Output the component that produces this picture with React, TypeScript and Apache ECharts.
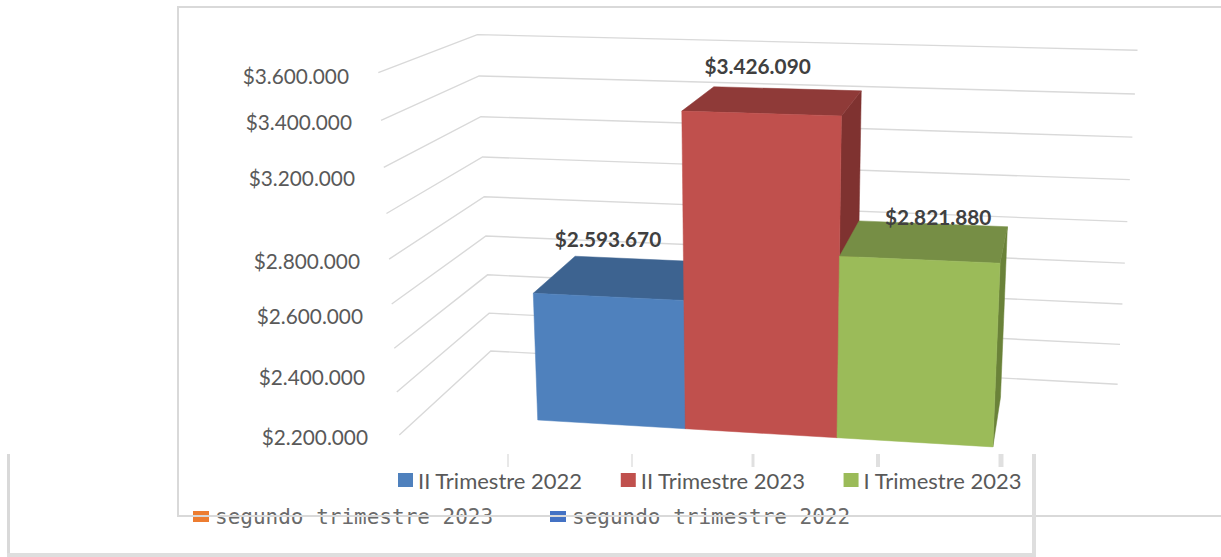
import React, { useEffect, useRef } from "react";
import * as echarts from "echarts";

const categories = ["II Trimestre 2022", "II Trimestre 2023", "I Trimestre 2023"];
const values = [2593670, 3426090, 2821880];
const valueLabels = ["$2.593.670", "$3.426.090", "$2.821.880"];
const frontColors = ["#4F81BD", "#C0504D", "#9BBB59"];
const topColors = ["#3D6390", "#8F3A38", "#768E45"];
const sideColors = ["#35567D", "#7F3230", "#6A8239"];
const axisTicks = [2000000, 2200000, 2400000, 2600000, 2800000, 3000000, 3200000, 3400000, 3600000];
const tickLabels = ["$3.600.000", "$3.400.000", "$3.200.000", "$2.800.000", "$2.600.000", "$2.400.000", "$2.200.000"];
const ghostLegend = ["segundo trimestre 2023", "segundo trimestre 2022"];
const ghostColors = ["#ED7D31", "#4472C4"];

// Layout (not data)
const W = 1221, H = 557;
const tickLabelPos = [[349, 75.5], [352, 121], [355, 177], [360, 260], [363, 315], [365, 376], [368, 436]];
const labelOffsets = [[-19, -39], [-17, -35], [12, -25]];
const frameTicks = [[508, 1.5], [632, 1.5], [753, 3], [878, 4], [1001, 5]];
const BAR_START = 0.1733, BAR_STEP = 0.2176, D0 = 0.233, D1 = 0.767;
const O = [399.3, 435], VX = [-10290, -220], VY = [1093, -202], VZ = [752.5, 6525];
const AX = -0.0633, AY = 0.1519, AZ = -0.05615;

function project(u: number, d: number, t: number) {
  const a = AX * u, b = AY * d, c = AZ * t;
  const w = 1 + a + b + c;
  return [
    (O[0] + a * VX[0] + b * VY[0] + c * VZ[0]) / w,
    (O[1] + a * VX[1] + b * VY[1] + c * VZ[1]) / w,
  ];
}

// scale (through the axes) -> normalised -> perspective
function at(api: any, u: number, d: number, value: number) {
  const p = api.coord([u, value]);
  return project(p[0] / W, d, 1 - p[1] / H);
}

const fontFamily = "Lato, Carlito, sans-serif";
const gridLineStyle = { stroke: "#D9D9D9", lineWidth: 1.4, fill: "none" };

function renderGrid(_: any, api: any) {
  const v = api.value(0);
  return {
    type: "polyline",
    shape: { points: [at(api, 0, 0, v), at(api, 0, 1, v), at(api, 1, 1, v)] },
    style: gridLineStyle,
    silent: true,
  };
}

function renderBar(i: number) {
  return (_: any, api: any) => {
    const v = api.value(0);
    const u0 = BAR_START + i * BAR_STEP, u1 = u0 + BAR_STEP;
    const base = axisTicks[0];
    const poly = (pts: number[][], fill: string) => ({
      type: "polygon",
      shape: { points: pts },
      style: { fill, stroke: fill, lineWidth: 0.5 },
    });
    const tc = at(api, (u0 + u1) / 2, 0.5, v);
    return {
      type: "group",
      children: [
        poly([at(api, u1, D0, v), at(api, u1, D1, v), at(api, u1, D1, base), at(api, u1, D0, base)], sideColors[i]),
        poly([at(api, u0, D0, v), at(api, u0, D1, v), at(api, u1, D1, v), at(api, u1, D0, v)], topColors[i]),
        poly([at(api, u0, D0, v), at(api, u1, D0, v), at(api, u1, D0, base), at(api, u0, D0, base)], frontColors[i]),
        {
          type: "text",
          z2: 50,
          style: {
            x: tc[0] + labelOffsets[i][0],
            y: tc[1] + labelOffsets[i][1],
            text: valueLabels[i],
            align: "center",
            verticalAlign: "middle",
            fill: "#404040",
            font: `bold 20.8px ${fontFamily}`,
          },
        },
      ],
    };
  };
}

const frameLine = (x1: number, y1: number, x2: number, y2: number, width = 2, stroke = "#D9D9D9") => ({
  type: "line",
  shape: { x1, y1, x2, y2 },
  style: { stroke, lineWidth: width },
  silent: true,
  z: 6,
});

export default function App() {
  const ref = useRef<HTMLDivElement>(null);
  useEffect(() => {
    const chart = echarts.init(ref.current!, undefined, { renderer: "svg" });
    chart.setOption({
      animation: false,
      backgroundColor: "#FFFFFF",
      grid: { left: 0, right: 0, top: 0, bottom: 0 },
      xAxis: { type: "value", min: 0, max: 1, show: false },
      yAxis: { type: "value", min: 2000000, max: 3600000, interval: 200000, show: false, splitLine: { show: false } },
      legend: {
        left: 393,
        top: 464,
        itemWidth: 15,
        itemHeight: 14,
        itemGap: 38,
        icon: "rect",
        data: categories,
        textStyle: { color: "#595959", fontSize: 22, fontFamily },
      },
      series: [
        {
          type: "custom",
          name: "grid",
          coordinateSystem: "cartesian2d",
          renderItem: renderGrid,
          data: axisTicks.map((t) => [t]),
          encode: { y: 0 },
          silent: true,
          clip: false,
          z: 1,
        },
        ...categories.map((name, i) => ({
          type: "custom",
          name,
          coordinateSystem: "cartesian2d",
          renderItem: renderBar(i),
          itemStyle: { color: frontColors[i] },
          data: [[values[i]]],
          encode: { y: 0 },
          clip: false,
          z: 2 + i,
        })),
      ],
      graphic: [
        ...tickLabels.map((text, i) => ({
          type: "text",
          style: {
            x: tickLabelPos[i][0],
            y: tickLabelPos[i][1],
            text,
            align: "right",
            verticalAlign: "middle",
            fill: "#595959",
            font: `20.8px ${fontFamily}`,
          },
          silent: true,
          z: 5,
        })),
        ...ghostLegend.map((text, i) => ({
          type: "group",
          silent: true,
          z: 5,
          children: [
            { type: "rect", shape: { x: [193, 550][i], y: 511, width: 16, height: 11 }, style: { fill: ghostColors[i] } },
            {
              type: "text",
              style: {
                x: [215, 572][i],
                y: 517,
                text,
                verticalAlign: "middle",
                fill: "#6A6A6A",
                font: `21px "DejaVu Sans Mono"`,
              },
            },
          ],
        })),
        frameLine(178, 7, W, 7),
        frameLine(178, 6, 178, 517),
        frameLine(178, 516, W, 516),
        frameLine(8.5, 454, 8.5, 554, 3),
        frameLine(7, 555, 1036, 555, 4, "#DEDEDE"),
        frameLine(1034, 454, 1034, 555, 4, "#DEDEDE"),
        ...frameTicks.map(([x, w]) => frameLine(x, 454, x, 467, w, "#E0E0E0")),
      ],
    });
    return () => chart.dispose();
  }, []);
  return <div ref={ref} style={{ position: "absolute", left: 0, top: 0, width: W, height: H }} />;
}
